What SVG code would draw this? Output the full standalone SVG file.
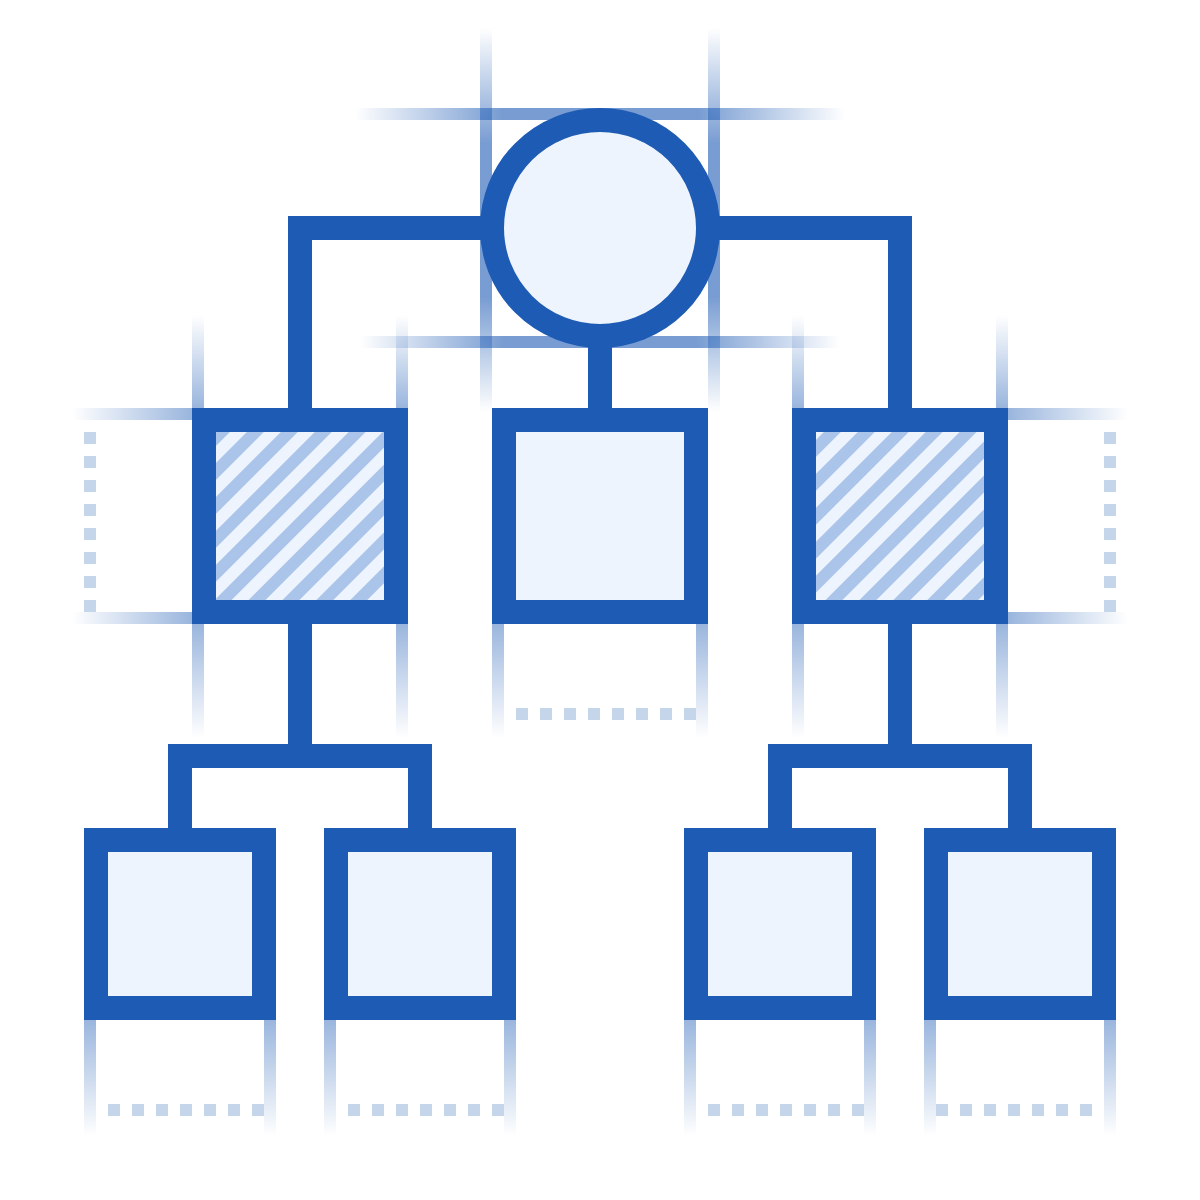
<svg xmlns="http://www.w3.org/2000/svg" width="1200" height="1200" viewBox="0 0 1200 1200">
<style>
.node{fill:#eef4fd;stroke:#1e5bb4;stroke-width:24}
.hatch{fill:url(#hatch);stroke:#1e5bb4;stroke-width:24}
.conn{fill:none;stroke:#1e5bb4;stroke-width:24;stroke-linejoin:miter;stroke-linecap:butt}
.dots rect{fill:#c5d5ea;width:12px;height:12px}
</style>
<defs>
<pattern id="hatch" width="24" height="24" patternUnits="userSpaceOnUse" patternTransform="rotate(45)">
<rect width="24" height="24" fill="#eef4fd"/>
<rect width="12" height="24" fill="#abc4e9"/>
</pattern>
<linearGradient id="gUp" x1="0" y1="1" x2="0" y2="0"><stop offset="0" stop-color="#1e5bb4" stop-opacity="0.45"/><stop offset="1" stop-color="#1e5bb4" stop-opacity="0"/></linearGradient>
<linearGradient id="gDown" x1="0" y1="0" x2="0" y2="1"><stop offset="0" stop-color="#1e5bb4" stop-opacity="0.45"/><stop offset="1" stop-color="#1e5bb4" stop-opacity="0"/></linearGradient>
<linearGradient id="gLeft" x1="1" y1="0" x2="0" y2="0"><stop offset="0" stop-color="#1e5bb4" stop-opacity="0.45"/><stop offset="1" stop-color="#1e5bb4" stop-opacity="0"/></linearGradient>
<linearGradient id="gRight" x1="0" y1="0" x2="1" y2="0"><stop offset="0" stop-color="#1e5bb4" stop-opacity="0.45"/><stop offset="1" stop-color="#1e5bb4" stop-opacity="0"/></linearGradient>
<linearGradient id="gSymH" x1="0" y1="0" x2="1" y2="0"><stop offset="0" stop-color="#1e5bb4" stop-opacity="0"/><stop offset="0.3" stop-color="#1e5bb4" stop-opacity="0.6"/><stop offset="0.7" stop-color="#1e5bb4" stop-opacity="0.6"/><stop offset="1" stop-color="#1e5bb4" stop-opacity="0"/></linearGradient>
<linearGradient id="gSymV" x1="0" y1="0" x2="0" y2="1"><stop offset="0" stop-color="#1e5bb4" stop-opacity="0"/><stop offset="0.3" stop-color="#1e5bb4" stop-opacity="0.6"/><stop offset="0.7" stop-color="#1e5bb4" stop-opacity="0.6"/><stop offset="1" stop-color="#1e5bb4" stop-opacity="0"/></linearGradient>
</defs>

<g id="guides">
<rect x="355" y="108" width="490" height="12" fill="url(#gSymH)"/>
<rect x="360" y="336" width="480" height="12" fill="url(#gSymH)"/>
<rect x="480" y="28" width="12" height="384" fill="url(#gSymV)"/>
<rect x="708" y="28" width="12" height="384" fill="url(#gSymV)"/>
<rect x="192" y="315" width="12" height="93" fill="url(#gUp)"/>
<rect x="396" y="315" width="12" height="93" fill="url(#gUp)"/>
<rect x="192" y="624" width="12" height="114" fill="url(#gDown)"/>
<rect x="396" y="624" width="12" height="114" fill="url(#gDown)"/>
<rect x="72" y="408" width="120" height="12" fill="url(#gLeft)"/>
<rect x="72" y="612" width="120" height="12" fill="url(#gLeft)"/>
<rect x="492" y="624" width="12" height="114" fill="url(#gDown)"/>
<rect x="696" y="624" width="12" height="114" fill="url(#gDown)"/>
<rect x="792" y="315" width="12" height="93" fill="url(#gUp)"/>
<rect x="996" y="315" width="12" height="93" fill="url(#gUp)"/>
<rect x="792" y="624" width="12" height="114" fill="url(#gDown)"/>
<rect x="996" y="624" width="12" height="114" fill="url(#gDown)"/>
<rect x="1008" y="408" width="120" height="12" fill="url(#gRight)"/>
<rect x="1008" y="612" width="120" height="12" fill="url(#gRight)"/>
<rect x="84" y="1020" width="12" height="116" fill="url(#gDown)"/>
<rect x="264" y="1020" width="12" height="116" fill="url(#gDown)"/>
<rect x="324" y="1020" width="12" height="116" fill="url(#gDown)"/>
<rect x="504" y="1020" width="12" height="116" fill="url(#gDown)"/>
<rect x="684" y="1020" width="12" height="116" fill="url(#gDown)"/>
<rect x="864" y="1020" width="12" height="116" fill="url(#gDown)"/>
<rect x="924" y="1020" width="12" height="116" fill="url(#gDown)"/>
<rect x="1104" y="1020" width="12" height="116" fill="url(#gDown)"/>
</g>

<g id="ghost-left" class="dots">
<rect x="84" y="432"/><rect x="84" y="456"/><rect x="84" y="480"/><rect x="84" y="504"/><rect x="84" y="528"/><rect x="84" y="552"/><rect x="84" y="576"/><rect x="84" y="600"/>
</g>
<g id="ghost-right" class="dots">
<rect x="1104" y="432"/><rect x="1104" y="456"/><rect x="1104" y="480"/><rect x="1104" y="504"/><rect x="1104" y="528"/><rect x="1104" y="552"/><rect x="1104" y="576"/><rect x="1104" y="600"/>
</g>
<g id="ghost-center" class="dots">
<rect x="516" y="708"/><rect x="540" y="708"/><rect x="564" y="708"/><rect x="588" y="708"/><rect x="612" y="708"/><rect x="636" y="708"/><rect x="660" y="708"/><rect x="684" y="708"/>
</g>
<g id="ghost-leaf-1" class="dots">
<rect x="108" y="1104"/><rect x="132" y="1104"/><rect x="156" y="1104"/><rect x="180" y="1104"/><rect x="204" y="1104"/><rect x="228" y="1104"/><rect x="252" y="1104"/>
</g>
<g id="ghost-leaf-2" class="dots">
<rect x="348" y="1104"/><rect x="372" y="1104"/><rect x="396" y="1104"/><rect x="420" y="1104"/><rect x="444" y="1104"/><rect x="468" y="1104"/><rect x="492" y="1104"/>
</g>
<g id="ghost-leaf-3" class="dots">
<rect x="708" y="1104"/><rect x="732" y="1104"/><rect x="756" y="1104"/><rect x="780" y="1104"/><rect x="804" y="1104"/><rect x="828" y="1104"/><rect x="852" y="1104"/>
</g>
<g id="ghost-leaf-4" class="dots">
<rect x="936" y="1104"/><rect x="960" y="1104"/><rect x="984" y="1104"/><rect x="1008" y="1104"/><rect x="1032" y="1104"/><rect x="1056" y="1104"/><rect x="1080" y="1104"/>
</g>

<g id="connectors">
<path class="conn" d="M490,228 H300 V420"/>
<path class="conn" d="M710,228 H900 V420"/>
<path class="conn" d="M600,340 V420"/>
<path class="conn" d="M300,612 V756"/>
<path class="conn" d="M180,840 V756 H420 V840"/>
<path class="conn" d="M900,612 V756"/>
<path class="conn" d="M780,840 V756 H1020 V840"/>
</g>

<g id="root"><circle class="node" cx="600" cy="228" r="108"/></g>
<g id="mid-left"><rect class="hatch" x="204" y="420" width="192" height="192"/></g>
<g id="mid-center"><rect class="node" x="504" y="420" width="192" height="192"/></g>
<g id="mid-right"><rect class="hatch" x="804" y="420" width="192" height="192"/></g>
<g id="leaf-1"><rect class="node" x="96" y="840" width="168" height="168"/></g>
<g id="leaf-2"><rect class="node" x="336" y="840" width="168" height="168"/></g>
<g id="leaf-3"><rect class="node" x="696" y="840" width="168" height="168"/></g>
<g id="leaf-4"><rect class="node" x="936" y="840" width="168" height="168"/></g>
</svg>
